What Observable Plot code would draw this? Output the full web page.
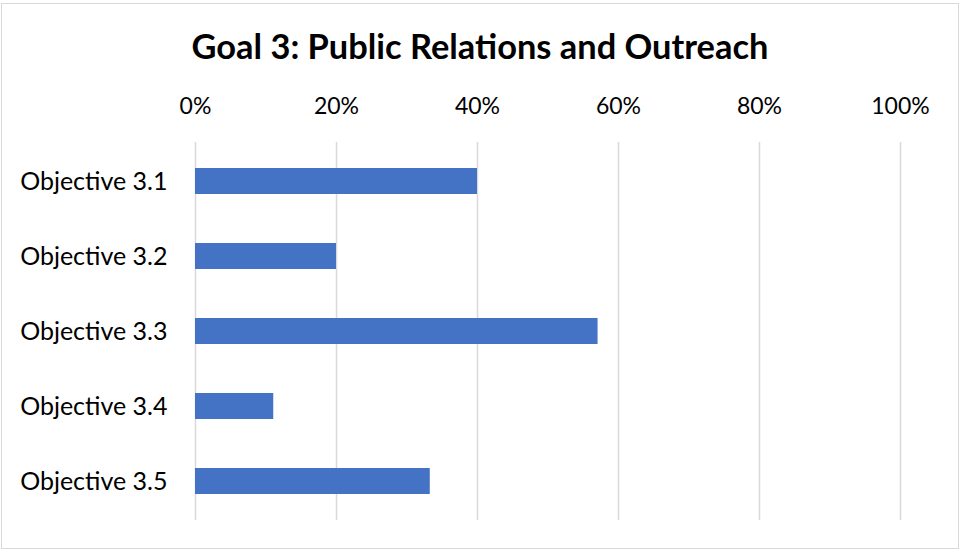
<!DOCTYPE html>
<html>
<head>
<meta charset="utf-8">
<script src="https://cdn.jsdelivr.net/npm/d3@7"></script>
<script src="https://cdn.jsdelivr.net/npm/@observablehq/plot@0.6"></script>
<style>
  html, body { margin: 0; padding: 0; background: #fff; }
  body { width: 960px; height: 550px; position: relative; overflow: hidden; font-family: Lato, "Open Sans", sans-serif; }
  #frame { position: absolute; left: 1px; top: 3px; width: 958px; height: 546px; box-sizing: border-box; border: 1.5px solid #d9d9d9; }
  #title { position: absolute; left: 0; top: 24px; width: 960px; text-align: center; font-weight: bold; font-size: 34.4px; color: #000; line-height: 44px; }
  #chart { position: absolute; left: 0; top: 70px; }
</style>
</head>
<body>
<div id="frame"></div>
<div id="title">Goal 3: Public Relations and Outreach</div>
<div id="chart"></div>
<script>
const objectives = ["Objective 3.1", "Objective 3.2", "Objective 3.3", "Objective 3.4", "Objective 3.5"];
const completion = [0.40, 0.20, 0.571, 0.111, 0.333];
const xTicks = [0, 0.2, 0.4, 0.6, 0.8, 1.0];

const data = objectives.map((name, i) => ({name, value: completion[i]}));

const chart = Plot.plot({
  width: 960,
  height: 480,
  marginLeft: 195,
  marginRight: 60,
  marginTop: 72,
  marginBottom: 30,
  style: {fontFamily: "Lato, 'Open Sans', sans-serif", fontSize: "23px", color: "#000", background: "transparent"},
  x: {domain: [0, 1], ticks: xTicks, tickFormat: d3.format(".0%")},
  y: {domain: objectives, paddingInner: 0.648, paddingOuter: 0.324},
  marks: [
    Plot.ruleX(xTicks, {stroke: "#d9d9d9", strokeWidth: 1.5, strokeOpacity: 1}),
    Plot.barX(data, {x: "value", y: "name", fill: "#4472C4"}),
    Plot.axisX({anchor: "top", ticks: xTicks, tickSize: 0, tickPadding: 29, tickFormat: d3.format(".0%"), label: null, fill: "#000"}),
    Plot.axisY({anchor: "left", tickSize: 0, tickPadding: 28, label: null, fill: "#000", fontSize: 25})
  ]
});
document.getElementById("chart").appendChild(chart);
</script>
</body>
</html>
